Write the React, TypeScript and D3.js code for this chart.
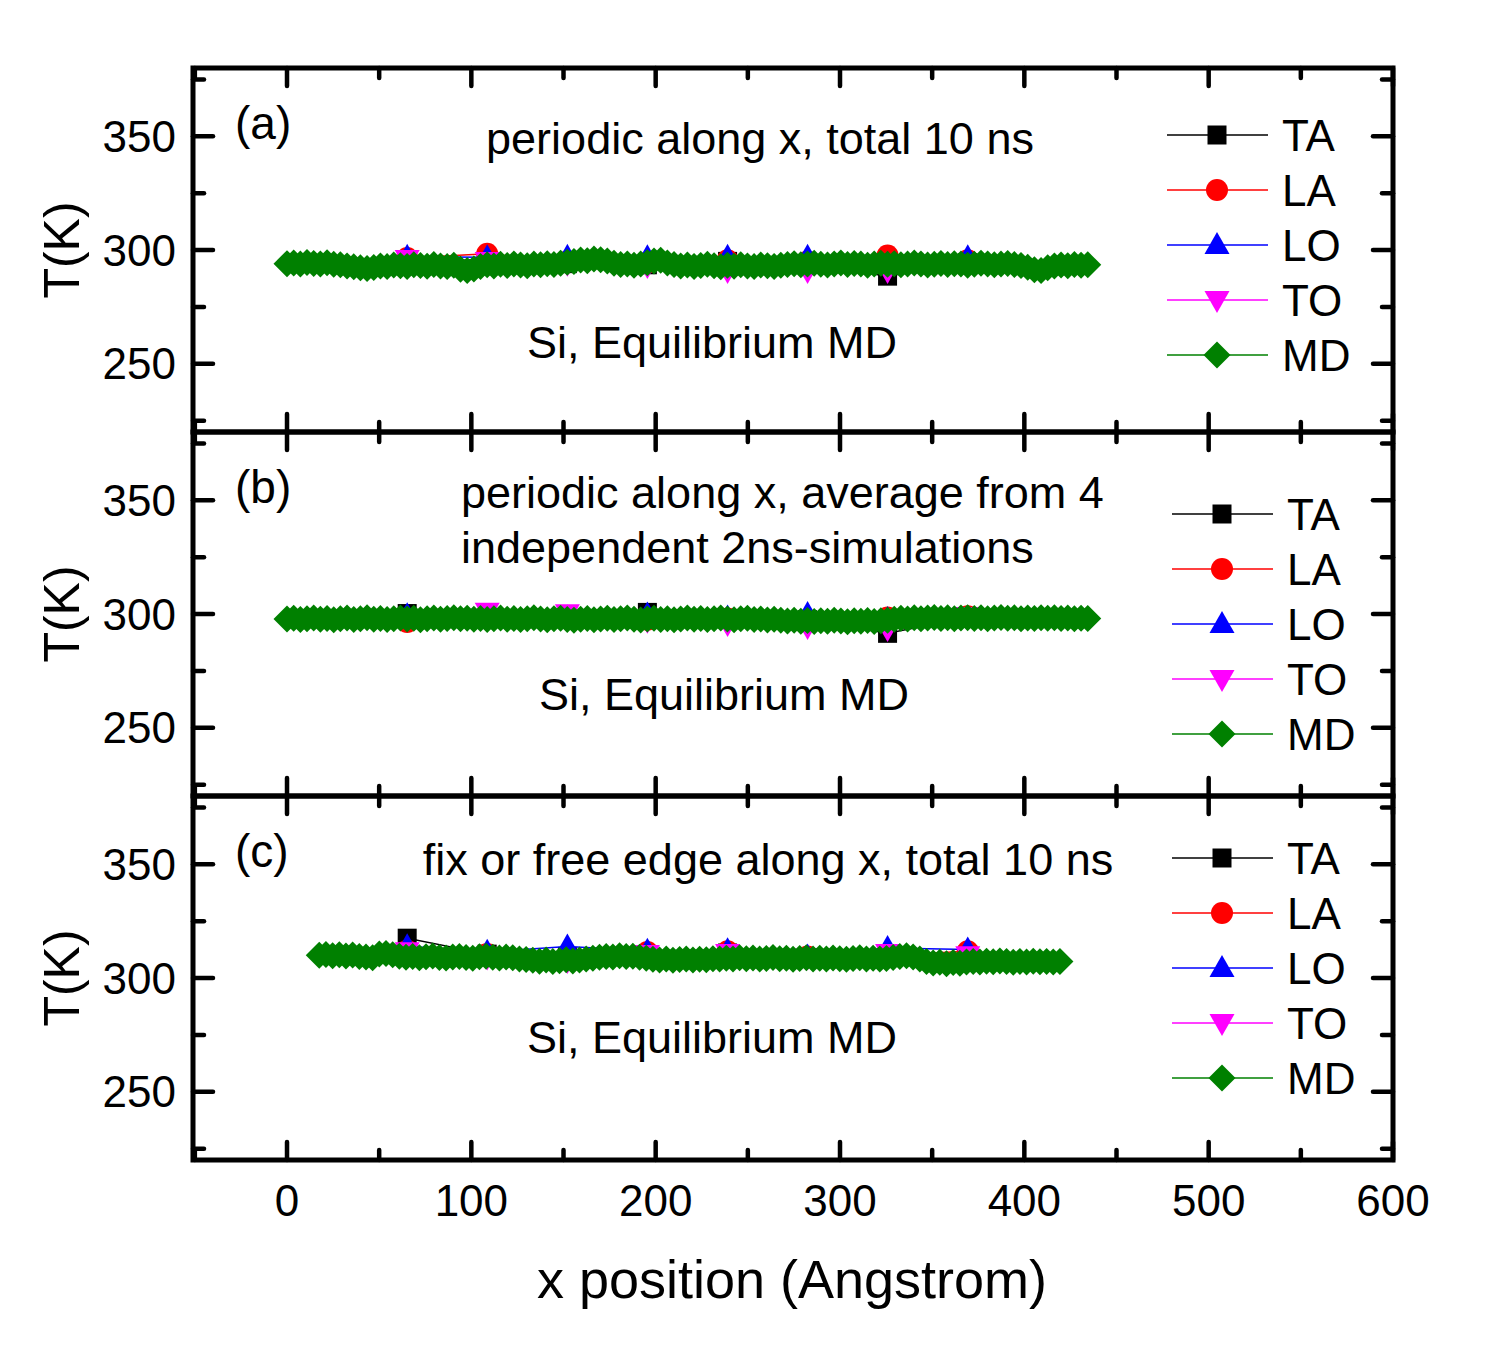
import * as d3 from 'd3'

// sampling grid of the MD profile (Angstrom)
const mdStartAB = 0
const mdStartC = 17.5
const mdStep = 3.62

// positions of the phonon-branch points (Angstrom)
const branchX = [65.2, 108.6, 152.1, 195.5, 239.0, 282.4, 325.8, 369.3]

const seriesNames = ['TA', 'LA', 'LO', 'TO', 'MD']
const seriesColors = ['#000000', '#ff0000', '#0000ff', '#ff00ff', '#008000']

// (a) periodic, total 10 ns
const taA = [294.5, 296.0, 294.0, 293.5, 295.0, 294.0, 288.5, 294.5]
const laA = [296.5, 298.3, 295.0, 294.5, 295.5, 295.0, 297.6, 295.5]
const loA = [297.0, 296.8, 297.0, 296.8, 297.0, 297.0, 294.0, 296.8]
const toA = [296.0, 295.2, 294.0, 293.0, 290.8, 290.8, 290.8, 294.0]
const mdA = [
  294.0, 294.3, 293.8, 294.5, 294.1, 293.9, 294.4, 293.7, 293.5, 293.0, 292.6, 292.2, 291.9, 292.3,
  293.0, 292.7, 293.4, 293.1, 292.8, 293.5, 293.2, 292.9, 293.6, 293.0, 292.7, 293.3,
  291.5, 291.0, 291.6,
  292.8, 293.5, 293.0, 293.7, 293.2, 293.9, 293.4, 293.1, 293.8, 293.5, 294.0, 293.6, 294.2, 294.6, 295.0,
  295.6, 295.3, 296.0, 295.7, 295.2,
  294.2, 293.6, 293.9, 293.3, 293.8, 294.4,
  295.2, 295.5,
  294.3, 293.6, 293.0, 293.4, 292.8, 293.2, 293.7, 293.1, 292.6, 293.3, 292.9, 293.5, 293.0, 292.7, 293.4, 293.1, 292.8, 293.3,
  293.6, 294.0, 293.5, 293.8, 294.2, 293.7, 293.4, 293.9, 294.3, 293.6, 294.1, 293.8, 293.3, 293.9, 294.2, 293.7, 294.0, 293.5,
  293.8, 294.3, 293.9, 293.4, 293.7, 294.1, 293.6, 294.0, 293.8, 293.3, 293.7, 294.2, 293.9, 293.5, 293.8, 294.1, 293.6, 293.2,
  292.4, 291.3, 291.0,
  292.2, 293.0, 293.4, 293.1, 293.6, 293.3, 293.5,
]

// (b) periodic, average of 4 runs
const taB = [300.2, 298.0, 298.5, 300.7, 298.0, 297.5, 291.5, 298.5]
const laB = [296.5, 298.5, 298.0, 297.5, 298.0, 297.0, 298.5, 299.0]
const loB = [299.5, 298.5, 298.5, 299.8, 298.5, 300.0, 297.8, 298.0]
const toB = [298.0, 301.0, 300.3, 297.0, 295.6, 294.3, 293.4, 299.1]
const mdB = [
  297.8, 298.1, 297.6, 297.9, 298.2, 297.7, 298.0, 297.5, 297.9, 298.2, 297.6, 297.9, 298.3, 297.7, 298.0, 297.6,
  297.9, 298.2, 297.8, 298.1, 297.5, 297.9, 298.2, 297.7, 298.0, 298.4, 297.9, 298.1, 297.7, 298.0, 297.6,
  297.9, 298.2, 297.7, 298.0, 297.6, 297.9, 298.3, 297.8, 297.5, 297.9, 298.1, 297.6, 297.3, 297.7, 298.0, 297.5,
  297.8, 298.1, 297.6, 297.9, 298.2, 297.7, 297.4, 297.8, 298.1, 297.6, 297.9, 297.5, 297.8, 298.2, 297.7, 298.0,
  297.6, 297.9, 298.2, 297.8, 297.5, 297.9, 298.1, 297.6, 297.8, 297.4, 297.7, 297.2,
  296.9, 297.2, 296.8, 297.1, 296.7, 297.0, 296.8, 297.2, 296.9, 296.6, 297.0, 296.8, 297.1, 296.7, 297.0, 297.3,
  297.7, 298.1, 297.8, 298.3, 297.9, 298.2, 298.5, 298.0, 298.3, 297.9, 298.2, 298.4, 298.0, 298.3, 297.9,
  298.2, 298.5, 298.1, 298.3, 297.9, 298.2, 298.0, 298.3, 298.1, 298.4, 298.0, 298.2, 297.9, 298.1, 298.0,
]

// (c) fixed / free edges, total 10 ns
const taC = [317.5, 310.5, 309.5, 309.0, 311.0, 309.0, 309.5, 310.0]
const laC = [312.0, 310.5, 309.5, 311.4, 311.8, 309.5, 310.0, 311.8]
const loC = [314.0, 311.5, 313.8, 312.0, 312.2, 309.5, 313.2, 312.5]
const toC = [311.8, 309.0, 307.5, 310.5, 311.0, 309.0, 311.0, 310.0]
const mdC = [
  310.0, 310.3, 309.8, 310.2, 309.7, 310.1, 309.5, 309.2, 308.9,
  310.5, 310.8, 310.2,
  309.6, 309.1, 309.4, 308.9, 309.3, 309.7, 309.0, 308.8, 309.2, 309.5, 309.0, 308.7, 309.3, 309.6, 309.1, 308.8,
  309.2, 308.9, 308.4, 308.1,
  307.8, 307.4, 307.9, 307.2, 307.6, 308.0, 307.5, 307.9, 308.3, 308.7, 309.1,
  309.5, 309.2, 309.8, 309.4, 309.6, 309.1, 308.7,
  308.2, 307.9, 308.3, 307.8, 308.1, 308.4, 307.9, 308.2, 308.0, 308.5, 308.3,
  308.7, 308.4, 308.9, 308.5, 308.8, 308.3, 308.6, 309.0, 308.5, 308.7, 308.2, 308.6, 308.9, 308.4, 308.7,
  308.3, 308.8, 308.5, 308.2, 308.6, 308.9, 308.4, 308.7, 308.3, 308.6, 309.0, 309.4, 309.8, 309.2, 308.4,
  307.2, 306.6, 306.9, 306.3, 306.8, 306.5, 307.0,
  307.3, 307.0, 307.4, 307.1, 307.5, 307.2, 306.9, 307.3, 307.0, 307.4, 307.1, 307.3, 307.0, 307.2,
]

const xTicks = [0, 100, 200, 300, 400, 500, 600]
const xMinor = [-50, 50, 150, 250, 350, 450, 550]
const yTicks = [250, 300, 350]
const yMinor = [225, 275, 325, 375]

const FONT = '"Liberation Sans", Arial, Helvetica, sans-serif'

const left = 193
const right = 1393
const panelH = 364
const tops = [68, 432, 796]

const x = d3.scaleLinear().domain([-51, 600]).range([left, right])

type Pt = [number, number]

const markerPath = (i: number) => {
  switch (i) {
    case 0: return 'M-9.5,-9.5H9.5V9.5H-9.5Z'
    case 1: return d3.symbol(d3.symbolCircle, Math.PI * 11 * 11)() as string
    case 2: return 'M0,-13L12.5,9L-12.5,9Z'
    case 3: return 'M0,13L12.5,-9L-12.5,-9Z'
    default: return 'M0,-13.5L13.5,0L0,13.5L-13.5,0Z'
  }
}

const mdGrid = (start: number, vals: number[]): Pt[] => vals.map((v, i) => [start + i * mdStep, v])
const branch = (vals: number[]): Pt[] => vals.map((v, i) => [branchX[i], v])

const panels = [
  {
    tag: '(a)',
    series: [branch(taA), branch(laA), branch(loA), branch(toA), mdGrid(mdStartAB, mdA)],
    notes: [{ t: 'periodic along x, total 10 ns', x: 760, y: 154, anchor: 'middle' }],
    si: { x: 712, y: 358 },
    legend: { x: 1167, y: 135 },
  },
  {
    tag: '(b)',
    series: [branch(taB), branch(laB), branch(loB), branch(toB), mdGrid(mdStartAB, mdB)],
    notes: [
      { t: 'periodic along x, average from 4', x: 461, y: 508, anchor: 'start' },
      { t: 'independent 2ns-simulations', x: 461, y: 563, anchor: 'start' },
    ],
    si: { x: 724, y: 710 },
    legend: { x: 1172, y: 514 },
  },
  {
    tag: '(c)',
    series: [branch(taC), branch(laC), branch(loC), branch(toC), mdGrid(mdStartC, mdC)],
    notes: [{ t: 'fix or free edge along x, total 10 ns', x: 768, y: 875, anchor: 'middle' }],
    si: { x: 712, y: 1053 },
    legend: { x: 1172, y: 858 },
  },
]

const Panel = ({ p, top }: { p: typeof panels[number]; top: number }) => {
  const bottom = top + panelH
  const y = d3.scaleLinear().domain([220, 380]).range([bottom, top])
  const line = d3.line<Pt>().x(d => x(d[0])).y(d => y(d[1]))
  const tick = { stroke: '#000', strokeWidth: 4.5, strokeLinecap: 'round' as const }
  return (
    <g>
      {/* data */}
      {p.series.map((s, i) => (
        <g key={i}>
          <path d={line(s) as string} fill="none" stroke={seriesColors[i]} strokeWidth={1.5} />
          {s.map((d, j) => (
            <path key={j} d={markerPath(i)} transform={`translate(${x(d[0])},${y(d[1])})`} fill={seriesColors[i]} />
          ))}
        </g>
      ))}
      {/* ticks on all four sides */}
      {xTicks.concat(xMinor).map(v => {
        const len = xTicks.includes(v) ? 18 : 10
        return (
          <g key={'x' + v}>
            <line x1={x(v)} x2={x(v)} y1={top} y2={top + len} {...tick} />
            <line x1={x(v)} x2={x(v)} y1={bottom} y2={bottom - len} {...tick} />
          </g>
        )
      })}
      {yTicks.concat(yMinor).map(v => {
        const len = yTicks.includes(v) ? 20 : 11
        return (
          <g key={'y' + v}>
            <line x1={left} x2={left + len} y1={y(v)} y2={y(v)} {...tick} />
            <line x1={right} x2={right - len} y1={y(v)} y2={y(v)} {...tick} />
          </g>
        )
      })}
      <rect x={left} y={top} width={right - left} height={panelH} fill="none" stroke="#000" strokeWidth={5} />
      {yTicks.map(v => (
        <text key={v} x={176} y={y(v) + 15.5} textAnchor="end" fontSize={44}>{v}</text>
      ))}
      <text x={79} y={(top + bottom) / 2} transform={`rotate(-90,79,${(top + bottom) / 2})`} textAnchor="middle" fontSize={50}>T(K)</text>
      {/* annotations */}
      <text x={235} y={top + 71} fontSize={46}>{p.tag}</text>
      {p.notes.map(n => (
        <text key={n.t} x={n.x} y={n.y} textAnchor={n.anchor} fontSize={45}>{n.t}</text>
      ))}
      <text x={p.si.x} y={p.si.y} textAnchor="middle" fontSize={45}>Si, Equilibrium MD</text>
      {/* legend */}
      {seriesNames.map((name, i) => {
        const ly = p.legend.y + i * 55
        return (
          <g key={name}>
            <line x1={p.legend.x} x2={p.legend.x + 101} y1={ly} y2={ly} stroke={seriesColors[i]} strokeWidth={1.5} />
            <path d={markerPath(i)} transform={`translate(${p.legend.x + 50},${ly})`} fill={seriesColors[i]} />
            <text x={p.legend.x + 115} y={ly + 16} fontSize={44}>{name}</text>
          </g>
        )
      })}
    </g>
  )
}

export default function App() {
  const last = tops[2] + panelH
  return (
    <svg width={1500} height={1350} style={{ position: 'absolute', left: 0, top: 0, background: '#fff' }} fontFamily={FONT}>
      <rect width={1500} height={1350} fill="#fff" />
      {panels.map((p, i) => (
        <Panel key={p.tag} p={p} top={tops[i]} />
      ))}
      {xTicks.map(v => (
        <text key={v} x={x(v)} y={last + 56} textAnchor="middle" fontSize={44}>{v}</text>
      ))}
      <text x={792} y={1298} textAnchor="middle" fontSize={54}>x position (Angstrom)</text>
    </svg>
  )
}
